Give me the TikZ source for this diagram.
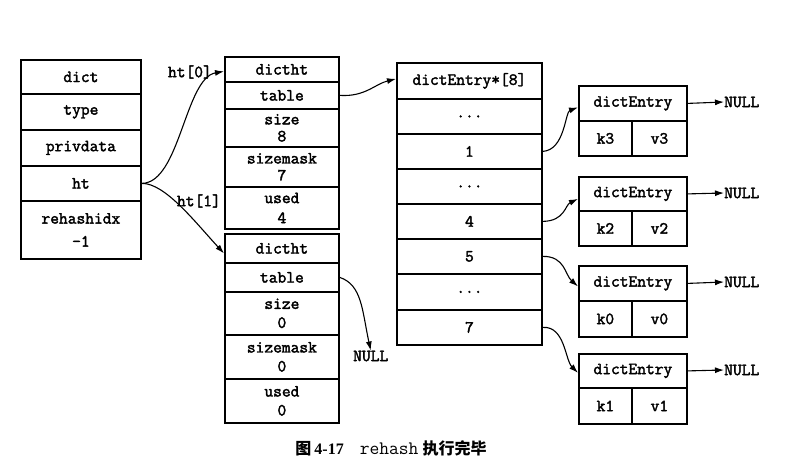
\documentclass[tikz,border=0pt]{standalone}
\usepackage{fontspec}
\setmonofont[AutoFakeBold=2.2]{Latin Modern Mono}
\newfontfamily\cjk{Noto Sans CJK SC}
\newfontfamily\capserif{Liberation Serif}
\usetikzlibrary{arrows.meta}
\newcommand\cbox[6]{\node[cellbox, minimum width={(#4-#2)*1pt}, minimum height={(#5-#3)*1pt}, anchor=north west] (#1) at (#2,#3) {#6};}
\tikzset{
  cellbox/.style={draw, line width=1.8pt, inner sep=0pt, align=center,
    font=\fontsize{17}{17}\selectfont\ttfamily\bfseries},
  lbl/.style={inner sep=0pt, font=\fontsize{17}{17}\selectfont\ttfamily\bfseries},
  conn/.style={line width=1.1pt, -{Latex[length=9pt,width=6pt]}}
}
\begin{document}
\begin{tikzpicture}[x=1pt,y=-1pt]
\useasboundingbox (0,0) rectangle (785,473);
% dict
\cbox{dname}{20}{59}{140}{93}{dict}
\cbox{dtype}{20}{93}{140}{129}{type}
\cbox{dpriv}{20}{129}{140}{165}{privdata}
\cbox{dht}{20}{165}{140}{200}{ht}
\cbox{drehash}{20}{200}{140}{258}{rehashidx\\[6pt]-1}
% dictht 0
\cbox{aname}{224}{56}{338}{81}{dictht}
\cbox{atable}{224}{81}{338}{108}{table}
\cbox{asize}{224}{108}{338}{146}{size\\8}
\cbox{amask}{224}{146}{338}{186}{sizemask\\7}
\cbox{aused}{224}{186}{338}{228}{used\\[3pt]4}
% dictht 1
\cbox{bname}{224}{233}{338}{262}{dictht}
\cbox{btable}{224}{262}{338}{291}{table}
\cbox{bsize}{224}{291}{338}{334}{size\\[2pt]0}
\cbox{bmask}{224}{334}{338}{378}{sizemask\\[2pt]0}
\cbox{bused}{224}{378}{338}{422}{used\\[2pt]0}
% array
\cbox{arr}{396}{62}{541}{98}{dictEntry*[8]}
\cbox{r0}{396}{98}{541}{133}{...}
\cbox{r1}{396}{133}{541}{168}{1}
\cbox{r2}{396}{168}{541}{203}{...}
\cbox{r4}{396}{203}{541}{238}{4}
\cbox{r5}{396}{238}{541}{273}{5}
\cbox{r6}{396}{273}{541}{309}{...}
\cbox{r7}{396}{309}{541}{344}{7}
% entries
\cbox{ea}{578}{85}{686}{120}{dictEntry}
\cbox{eak}{578}{120}{631}{155}{k3}
\cbox{eav}{631}{120}{686}{155}{v3}
\cbox{eb}{578}{176}{686}{210}{dictEntry}
\cbox{ebk}{578}{210}{631}{245}{k2}
\cbox{ebv}{631}{210}{686}{245}{v2}
\cbox{ec}{578}{265}{686}{300}{dictEntry}
\cbox{eck}{578}{300}{631}{336}{k0}
\cbox{ecv}{631}{300}{686}{336}{v0}
\cbox{ed}{578}{353}{686}{387}{dictEntry}
\cbox{edk}{578}{387}{631}{423}{k1}
\cbox{edv}{631}{387}{686}{423}{v1}
% NULL labels
\node[lbl, anchor=west] (na) at (724,102) {NULL};
\node[lbl, anchor=west] (nb) at (724,193) {NULL};
\node[lbl, anchor=west] (nc) at (724,282) {NULL};
\node[lbl, anchor=west] (nd) at (724,370) {NULL};
\node[lbl, anchor=west] (nt) at (353,356) {NULL};
% ht labels
\node[lbl, anchor=east] (l0) at (212,72) {ht[0]};
\node[lbl, anchor=east] (l1) at (221,201) {ht[1]};
% connectors
\draw[conn] (dht.east) .. controls (180,183) and (185,78) .. ([yshift=-2pt]aname.west);
\draw[conn] (dht.east) .. controls (165,183) and (195,222) .. ([yshift=-5pt]bname.west);
\draw[conn] (atable.east) .. controls (365,97) and (375,84) .. ([yshift=2pt]arr.west);
\draw[conn] (btable.east) .. controls (362,285) and (362,310) .. (nt.north);
\draw[conn] (r1.east) .. controls (565,150) and (565,112) .. ([yshift=-4pt]ea.west);
\draw[conn] (r4.east) .. controls (565,221) and (565,205) .. ([yshift=-5pt]eb.west);
\draw[conn] (r5.east) .. controls (565,256) and (565,275) .. ([yshift=-3pt]ec.west);
\draw[conn] (r7.east) .. controls (565,326) and (565,360) .. ([yshift=-2pt]ed.west);
\draw[conn] (ea.east) -- (na.west);
\draw[conn] (eb.east) -- (nb.west);
\draw[conn] (ec.east) -- (nc.west);
\draw[conn] (ed.east) -- (nd.west);
% caption
\node[inner sep=0pt] (cap) at (391,448) {{\cjk\bfseries\fontsize{16}{18}\selectfont 图}\hspace{3pt}{\capserif\bfseries\fontsize{16}{18}\selectfont 4-17}\hspace{16pt}{\ttfamily\fontsize{19}{18}\selectfont rehash}\hspace{4pt}{\cjk\bfseries\fontsize{16}{18}\selectfont 执行完毕}};
\end{tikzpicture}
\end{document}
